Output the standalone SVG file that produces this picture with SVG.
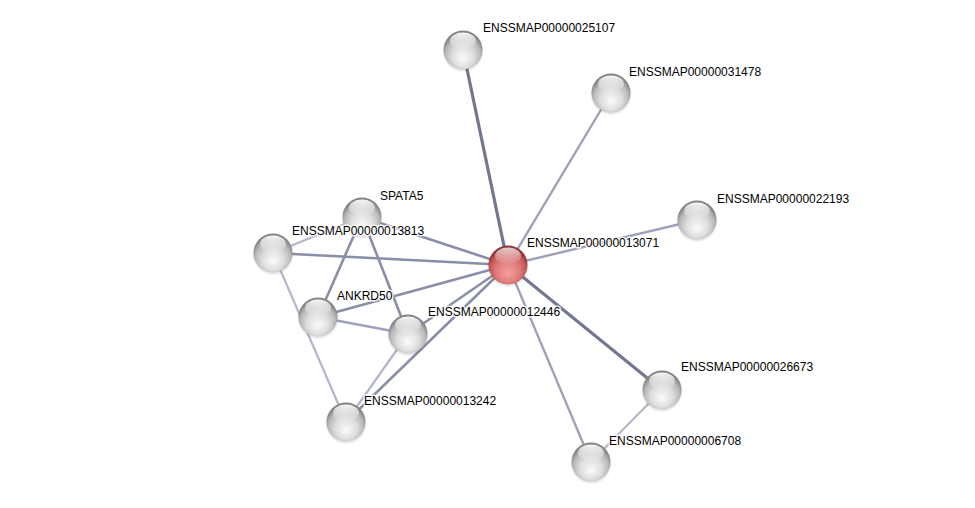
<svg xmlns="http://www.w3.org/2000/svg" width="975" height="508" viewBox="0 0 975 508">
<defs>
<radialGradient id="gBall" cx="50%" cy="62%" r="55%" fx="50%" fy="72%">
<stop offset="0" stop-color="#fbfbfb"/>
<stop offset="0.5" stop-color="#dedede"/>
<stop offset="0.82" stop-color="#b8b8b8"/>
<stop offset="1" stop-color="#858585"/>
</radialGradient>
<radialGradient id="rBall" cx="50%" cy="62%" r="55%" fx="50%" fy="72%">
<stop offset="0" stop-color="#f4a0a0"/>
<stop offset="0.55" stop-color="#e07a7a"/>
<stop offset="0.85" stop-color="#c45555"/>
<stop offset="1" stop-color="#8f3535"/>
</radialGradient>
<linearGradient id="hl" x1="0" y1="0" x2="0" y2="1">
<stop offset="0" stop-color="#ffffff" stop-opacity="0.95"/>
<stop offset="1" stop-color="#ffffff" stop-opacity="0"/>
</linearGradient>
<radialGradient id="shadow" cx="50%" cy="50%" r="50%">
<stop offset="0.8" stop-color="#000" stop-opacity="0.18"/>
<stop offset="1" stop-color="#000" stop-opacity="0"/>
</radialGradient>
<g id="ball">
<circle cx="0" cy="1.5" r="21" fill="url(#shadow)"/>
<circle cx="0" cy="0" r="19.5" fill="url(#gBall)"/>
<ellipse cx="0" cy="-9" rx="13" ry="8.5" fill="url(#hl)"/>
</g>
<g id="rball">
<circle cx="0" cy="1.5" r="21" fill="url(#shadow)"/>
<circle cx="0" cy="0" r="19.5" fill="url(#rBall)"/>
<ellipse cx="0" cy="-9" rx="13" ry="8.5" fill="url(#hl)" opacity="0.8"/>
</g>
</defs>
<style>
.e{fill:none;stroke-linecap:butt}
.t{stroke:#737891;stroke-width:3.2}
.m{stroke:#8a8fa8;stroke-width:2.6}
.l{stroke:#b3b7c9;stroke-width:2.2}
.ml{stroke:#9ea2b8;stroke-width:2.4}
text{font-family:"Liberation Sans",Arial,sans-serif;font-size:12px;fill:#000;stroke:#ffffff;stroke-width:3;stroke-opacity:0.85;paint-order:stroke;stroke-linejoin:round}
</style>
<rect width="975" height="508" fill="#ffffff"/>
<g id="connectors">
<line class="e l" x1="273" y1="253" x2="346" y2="422"/>
<line class="e l" x1="362" y1="217" x2="273" y2="253"/>
<line class="e ml" x1="318" y1="317" x2="408" y2="334"/>
<line class="e l" x1="408" y1="334" x2="346" y2="422"/>
<line class="e m" x1="362" y1="217" x2="318" y2="317"/>
<line class="e m" x1="362" y1="217" x2="408" y2="334"/>
<line class="e l" x1="662" y1="390" x2="591" y2="462"/>
<line class="e t" x1="508" y1="265" x2="463" y2="50"/>
<line class="e ml" x1="508" y1="265" x2="611" y2="93"/>
<line class="e ml" x1="508" y1="265" x2="697" y2="220"/>
<line class="e t" x1="508" y1="265" x2="662" y2="390"/>
<line class="e ml" x1="508" y1="265" x2="591" y2="462"/>
<line class="e m" x1="508" y1="265" x2="362" y2="217"/>
<line class="e m" x1="508" y1="265" x2="273" y2="253"/>
<line class="e m" x1="508" y1="265" x2="318" y2="317"/>
<line class="e m" x1="508" y1="265" x2="408" y2="334"/>
<line class="e m" x1="508" y1="265" x2="346" y2="422"/>
</g>
<g id="n25107"><use href="#ball" x="463" y="50"/><text x="483" y="32">ENSSMAP00000025107</text></g>
<g id="n31478"><use href="#ball" x="611" y="93"/><text x="629" y="76">ENSSMAP00000031478</text></g>
<g id="n22193"><use href="#ball" x="697" y="220"/><text x="717" y="203">ENSSMAP00000022193</text></g>
<g id="nSPATA5"><use href="#ball" x="362" y="217"/><text x="380" y="200">SPATA5</text></g>
<g id="n13813"><use href="#ball" x="273" y="253"/><text x="292" y="235">ENSSMAP00000013813</text></g>
<g id="nANKRD50"><use href="#ball" x="318" y="317"/><text x="337" y="300">ANKRD50</text></g>
<g id="n12446"><use href="#ball" x="408" y="334"/><text x="428" y="316">ENSSMAP00000012446</text></g>
<g id="n13242"><use href="#ball" x="346" y="422"/><text x="364" y="405">ENSSMAP00000013242</text></g>
<g id="n26673"><use href="#ball" x="662" y="390"/><text x="681" y="371">ENSSMAP00000026673</text></g>
<g id="n6708"><use href="#ball" x="591" y="462"/><text x="609" y="445">ENSSMAP00000006708</text></g>
<g id="n13071"><use href="#rball" x="508" y="265"/><text x="527" y="247">ENSSMAP00000013071</text></g>
</svg>
